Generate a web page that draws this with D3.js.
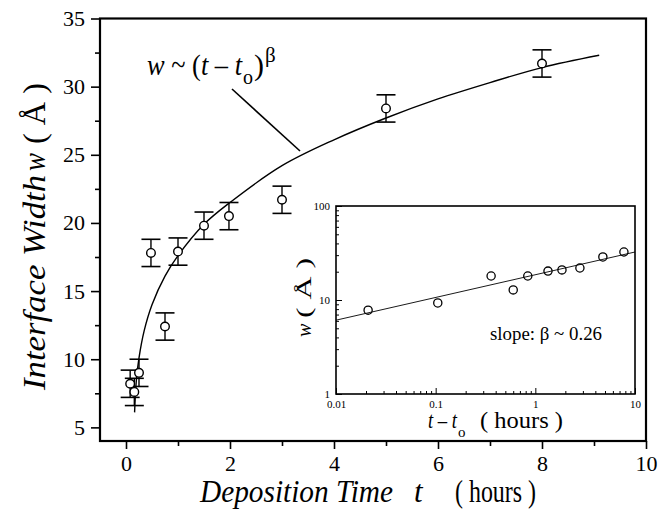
<!DOCTYPE html>
<html>
<head>
<meta charset="utf-8">
<script src="https://cdn.jsdelivr.net/npm/d3@7"></script>
<style>
  body { margin: 0; background: #fff; }
  svg { display: block; font-family: "Liberation Serif", "DejaVu Serif", serif; }
</style>
</head>
<body>
<div id="chart"></div>
<script>
// Main data: deposition time t (hours), interface width w (Å), error
var times    = [0.08, 0.16, 0.25, 0.48, 0.75, 1.0, 1.5, 1.98, 3.0, 5.0, 8.0];
var widths   = [8.2, 7.6, 9.0, 17.8, 12.4, 17.9, 19.8, 20.5, 21.7, 28.4, 31.7];
var errs     = [1, 1, 1, 1, 1, 1, 1, 1, 1, 1, 1];

// fit curve
var fitT     = [0.165, 0.2, 0.25, 0.35, 0.5, 0.75, 1, 1.5, 2, 3, 4, 5, 6, 7, 8, 9.1];
var fitW     = [6.1, 8.5, 10.1, 12.1, 14.0, 16.1, 17.6, 19.9, 21.5, 24.2, 26.1, 27.7, 29.1, 30.3, 31.4, 32.3];

// Inset (log-log): t - t0 vs w
var insetX   = [0.021, 0.105, 0.36, 0.6, 0.84, 1.34, 1.85, 2.8, 4.76, 7.74];
var insetW   = [7.8, 9.3, 18.0, 12.8, 18.0, 20.3, 20.9, 21.9, 28.7, 32.4];
var insetFitX = [0.01, 10];
var insetFitW = [6.1, 32.4];

var xMajor   = [0, 2, 4, 6, 8, 10];
var xMinor   = [1, 3, 5, 7, 9];
var yMajor   = [5, 10, 15, 20, 25, 30, 35];
var yMinor   = [7.5, 12.5, 17.5, 22.5, 27.5, 32.5];
var ixMajor  = [0.01, 0.1, 1, 10];
var ixLabels = ['0.01', '0.1', '1', '10'];
var iyMajor  = [1, 10, 100];

var chart_width  = 672;
var chart_height = 510;

var svg = d3.select('#chart')
  .append('svg')
  .attr('width', chart_width)
  .attr('height', chart_height);

svg.append('rect')
  .attr('width', chart_width)
  .attr('height', chart_height)
  .attr('fill', '#fff');

var x = d3.scaleLinear().domain([-0.5, 10]).range([100, 646]);
var y = d3.scaleLinear().domain([4, 35]).range([441, 18.5]);

// axes
function styleAxis(g){
  g.select('.domain').remove();
  g.selectAll('line').attr('stroke', '#000').attr('stroke-width', 1.6);
  g.selectAll('text').attr('fill', '#000');
}

svg.append('g')
  .attr('transform', 'translate(0,441)')
  .call(d3.axisBottom(x).tickValues(xMajor).tickSize(8).tickPadding(6).tickFormat(d3.format('d')))
  .call(styleAxis)
  .selectAll('text')
  .attr('font-family', '"Liberation Serif", serif')
  .attr('font-size', 22);

svg.append('g')
  .attr('transform', 'translate(0,441)')
  .call(d3.axisBottom(x).tickValues(xMinor).tickSize(5).tickFormat(''))
  .call(styleAxis);

svg.append('g')
  .attr('transform', 'translate(100,0)')
  .call(d3.axisLeft(y).tickValues(yMajor).tickSize(9).tickPadding(6).tickFormat(d3.format('d')))
  .call(styleAxis)
  .selectAll('text')
  .attr('font-family', '"Liberation Serif", serif')
  .attr('font-size', 22);

svg.append('g')
  .attr('transform', 'translate(100,0)')
  .call(d3.axisLeft(y).tickValues(yMinor).tickSize(5).tickFormat(''))
  .call(styleAxis);

// frame
svg.append('rect')
  .attr('x', x(-0.5))
  .attr('y', y(35))
  .attr('width', x(10) - x(-0.5))
  .attr('height', y(4) - y(35))
  .attr('fill', 'none')
  .attr('stroke', '#000')
  .attr('stroke-width', 2.2);

// fit curve
var fitLine = d3.line()
  .x((d, i) => x(fitT[i]))
  .y((d) => y(d))
  .curve(d3.curveCatmullRom);

svg.append('path')
  .attr('d', fitLine(fitW))
  .attr('fill', 'none')
  .attr('stroke', '#000')
  .attr('stroke-width', 1.4);

// error bars
var pts = svg.append('g');
times.forEach((t, i) => {
  var cx = x(t);
  var lo = y(widths[i] - errs[i]);
  var hi = y(widths[i] + errs[i]);
  pts.append('line').attr('x1', cx).attr('x2', cx).attr('y1', lo).attr('y2', hi)
    .attr('stroke', '#000').attr('stroke-width', 1.4);
  [lo, hi].forEach((yy) => {
    pts.append('line').attr('x1', cx - 9.5).attr('x2', cx + 9.5).attr('y1', yy).attr('y2', yy)
      .attr('stroke', '#000').attr('stroke-width', 1.6);
  });
});

pts.selectAll('circle')
  .data(widths)
  .enter()
  .append('circle')
  .attr('cx', (d, i) => x(times[i]))
  .attr('cy', (d) => y(d))
  .attr('r', 4.3)
  .attr('fill', '#fff')
  .attr('stroke', '#000')
  .attr('stroke-width', 1.4);

// annotation
svg.append('line')
  .attr('x1', 232).attr('y1', 89)
  .attr('x2', 300).attr('y2', 151)
  .attr('stroke', '#000')
  .attr('stroke-width', 1.6);

var formula = svg.append('text')
  .attr('x', 147)
  .attr('y', 75)
  .attr('font-size', 30)
  .attr('textLength', 95)
  .attr('lengthAdjust', 'spacingAndGlyphs');
formula.append('tspan').attr('font-style', 'italic').text('w');
formula.append('tspan').text(' ~ (');
formula.append('tspan').attr('font-style', 'italic').text('t');
formula.append('tspan').text(' \u2013 ');
formula.append('tspan').attr('font-style', 'italic').text('t');

svg.append('text').attr('x', 243).attr('y', 84).attr('font-size', 20).text('o');
svg.append('text').attr('x', 254).attr('y', 75).attr('font-size', 30).text(')');
svg.append('text').attr('x', 265).attr('y', 62).attr('font-size', 21).text('\u03b2');

// axis titles
svg.append('text')
  .attr('x', 200).attr('y', 502)
  .attr('font-size', 31)
  .attr('font-style', 'italic')
  .attr('textLength', 193)
  .attr('lengthAdjust', 'spacingAndGlyphs')
  .text('Deposition Time');
svg.append('text')
  .attr('x', 414).attr('y', 502)
  .attr('font-size', 31)
  .attr('font-style', 'italic')
  .text('t');
svg.append('text')
  .attr('x', 455).attr('y', 502)
  .attr('font-size', 31)
  .attr('textLength', 81)
  .attr('lengthAdjust', 'spacingAndGlyphs')
  .text('( hours )');

var ytitle = svg.append('g')
  .attr('transform', 'translate(45,0) rotate(-90)');
ytitle.append('text')
  .attr('x', -390).attr('y', 0)
  .attr('font-size', 31)
  .attr('font-style', 'italic')
  .attr('textLength', 215)
  .attr('lengthAdjust', 'spacingAndGlyphs')
  .text('Interface Width');
ytitle.append('text')
  .attr('x', -171).attr('y', 0)
  .attr('font-size', 31)
  .attr('font-style', 'italic')
  .attr('textLength', 18)
  .attr('lengthAdjust', 'spacingAndGlyphs')
  .text('w');
ytitle.append('text')
  .attr('x', -144).attr('y', 0)
  .attr('font-size', 31)
  .attr('textLength', 61)
  .attr('lengthAdjust', 'spacingAndGlyphs')
  .text('( \u00c5 )');

// ---------- Inset ----------
var ix = d3.scaleLog().domain([0.01, 10]).range([336, 635]);
var iy = d3.scaleLog().domain([1, 100]).range([394, 206]);

var inset = svg.append('g').attr('id', 'inset');

inset.append('rect')
  .attr('x', 336).attr('y', 206)
  .attr('width', 635 - 336).attr('height', 394 - 206)
  .attr('fill', '#fff');

function minorLog(lo, hi){
  var out = [];
  for (var e = lo; e < hi; e++){
    for (var k = 2; k <= 9; k++) out.push(k * Math.pow(10, e));
  }
  return out;
}

function styleInset(g){
  g.select('.domain').remove();
  g.selectAll('line').attr('stroke', '#000').attr('stroke-width', 1);
  g.selectAll('text').attr('fill', '#000')
    .attr('font-family', '"Liberation Serif", serif')
    .attr('font-size', 11);
}

inset.append('g')
  .attr('transform', 'translate(0,394)')
  .call(d3.axisBottom(ix).tickValues(ixMajor).tickSize(-6).tickPadding(6)
    .tickFormat((d, i) => ixLabels[i]))
  .call(styleInset);

inset.append('g')
  .attr('transform', 'translate(0,394)')
  .call(d3.axisBottom(ix).tickValues(minorLog(-2, 1)).tickSize(-3).tickFormat(''))
  .call(styleInset);

inset.append('g')
  .attr('transform', 'translate(336,0)')
  .call(d3.axisLeft(iy).tickValues(iyMajor).tickSize(-6).tickPadding(6)
    .tickFormat(d3.format('d')))
  .call(styleInset);

inset.append('g')
  .attr('transform', 'translate(336,0)')
  .call(d3.axisLeft(iy).tickValues(minorLog(0, 2)).tickSize(-3).tickFormat(''))
  .call(styleInset);

inset.append('rect')
  .attr('x', 336).attr('y', 206)
  .attr('width', 635 - 336).attr('height', 394 - 206)
  .attr('fill', 'none')
  .attr('stroke', '#000')
  .attr('stroke-width', 1.6);

var insetLine = d3.line()
  .x((d, i) => ix(insetFitX[i]))
  .y((d) => iy(d));

inset.append('path')
  .attr('d', insetLine(insetFitW))
  .attr('fill', 'none')
  .attr('stroke', '#000')
  .attr('stroke-width', 0.9);

inset.selectAll('circle')
  .data(insetW)
  .enter()
  .append('circle')
  .attr('cx', (d, i) => ix(insetX[i]))
  .attr('cy', (d) => iy(d))
  .attr('r', 4.1)
  .attr('fill', 'none')
  .attr('stroke', '#000')
  .attr('stroke-width', 1.3);

inset.append('text')
  .attr('x', 490).attr('y', 340)
  .attr('font-size', 18)
  .attr('textLength', 112)
  .attr('lengthAdjust', 'spacingAndGlyphs')
  .text('slope: \u03b2 ~ 0.26');

var ixt = inset.append('text')
  .attr('x', 428).attr('y', 428)
  .attr('font-size', 23)
  .attr('textLength', 29)
  .attr('lengthAdjust', 'spacingAndGlyphs');
ixt.append('tspan').attr('font-style', 'italic').text('t');
ixt.append('tspan').text(' \u2013 ');
ixt.append('tspan').attr('font-style', 'italic').text('t');
inset.append('text').attr('x', 458).attr('y', 437).attr('font-size', 15).text('o');
inset.append('text')
  .attr('x', 480).attr('y', 428)
  .attr('font-size', 23)
  .attr('textLength', 83)
  .attr('lengthAdjust', 'spacingAndGlyphs')
  .text('( hours )');

var iyt = inset.append('g')
  .attr('transform', 'translate(311,0) rotate(-90)');
iyt.append('text')
  .attr('x', -337).attr('y', 0)
  .attr('font-size', 20)
  .attr('font-style', 'italic')
  .text('w');
iyt.append('text')
  .attr('x', -318).attr('y', 0)
  .attr('font-size', 20)
  .attr('textLength', 60)
  .attr('lengthAdjust', 'spacingAndGlyphs')
  .text('( \u00c5 )');
</script>
</body>
</html>
